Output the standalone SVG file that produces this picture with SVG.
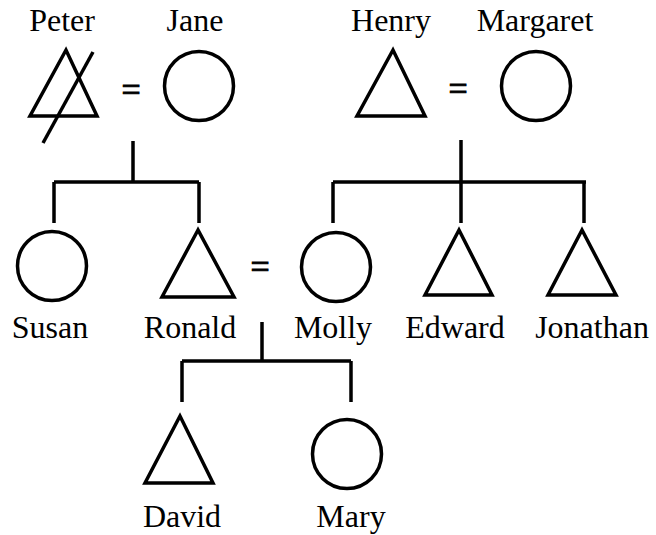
<svg xmlns="http://www.w3.org/2000/svg" width="656" height="535" viewBox="0 0 656 535">
<style>
.s{fill:none;stroke:#000;stroke-width:3.5;stroke-linejoin:miter}
.l{fill:none;stroke:#000;stroke-width:3.5}
.t{font-size:32px;fill:#000;text-anchor:middle}
.eq{font-size:34px;fill:#000;stroke:#000;stroke-width:0.9;text-anchor:middle}
</style>
<rect width="656" height="535" fill="#fff"/>
<g id="connectors">
<path class="l" d="M133 141V182M54 182H199M54 182V223M199 182V223"/>
<path class="l" d="M461 140V223M333 182H586M333 182V223M584 182V223"/>
<path class="l" d="M262 322V361M182 361H351M182 361V402M351 361V402"/>
</g>
<g font-family="'Liberation Serif', 'Times New Roman', serif">
<g id="peter"><text class="t" x="62" y="31">Peter</text><polygon class="s" points="66,50 30,116 97,116"/><line class="l" x1="43" y1="143" x2="93" y2="52"/></g>
<text class="eq" x="131" y="101">=</text>
<g id="jane"><text class="t" x="195" y="31">Jane</text><circle class="s" cx="199" cy="86" r="34.5"/></g>
<g id="henry"><text class="t" x="391" y="31">Henry</text><polygon class="s" points="393,50 357,116 425,116"/></g>
<text class="eq" x="458" y="100">=</text>
<g id="margaret"><text class="t" x="535" y="31">Margaret</text><circle class="s" cx="536" cy="86" r="34.5"/></g>
<g id="susan"><circle class="s" cx="52" cy="266" r="34.5"/><text class="t" x="50" y="338">Susan</text></g>
<g id="ronald"><polygon class="s" points="198,230 162,297 234,297"/><text class="t" x="190" y="338">Ronald</text></g>
<text class="eq" x="260" y="278">=</text>
<g id="molly"><circle class="s" cx="336" cy="267" r="34.5"/><text class="t" x="333" y="338">Molly</text></g>
<g id="edward"><polygon class="s" points="459,230 425,295 492,295"/><text class="t" x="455" y="338">Edward</text></g>
<g id="jonathan"><polygon class="s" points="582,230 548,295 616,295"/><text class="t" x="592" y="338">Jonathan</text></g>
<g id="david"><polygon class="s" points="180,416 145,483 213,483"/><text class="t" x="182" y="527">David</text></g>
<g id="mary"><circle class="s" cx="347" cy="454" r="34.5"/><text class="t" x="351" y="527">Mary</text></g>
</g>
</svg>
